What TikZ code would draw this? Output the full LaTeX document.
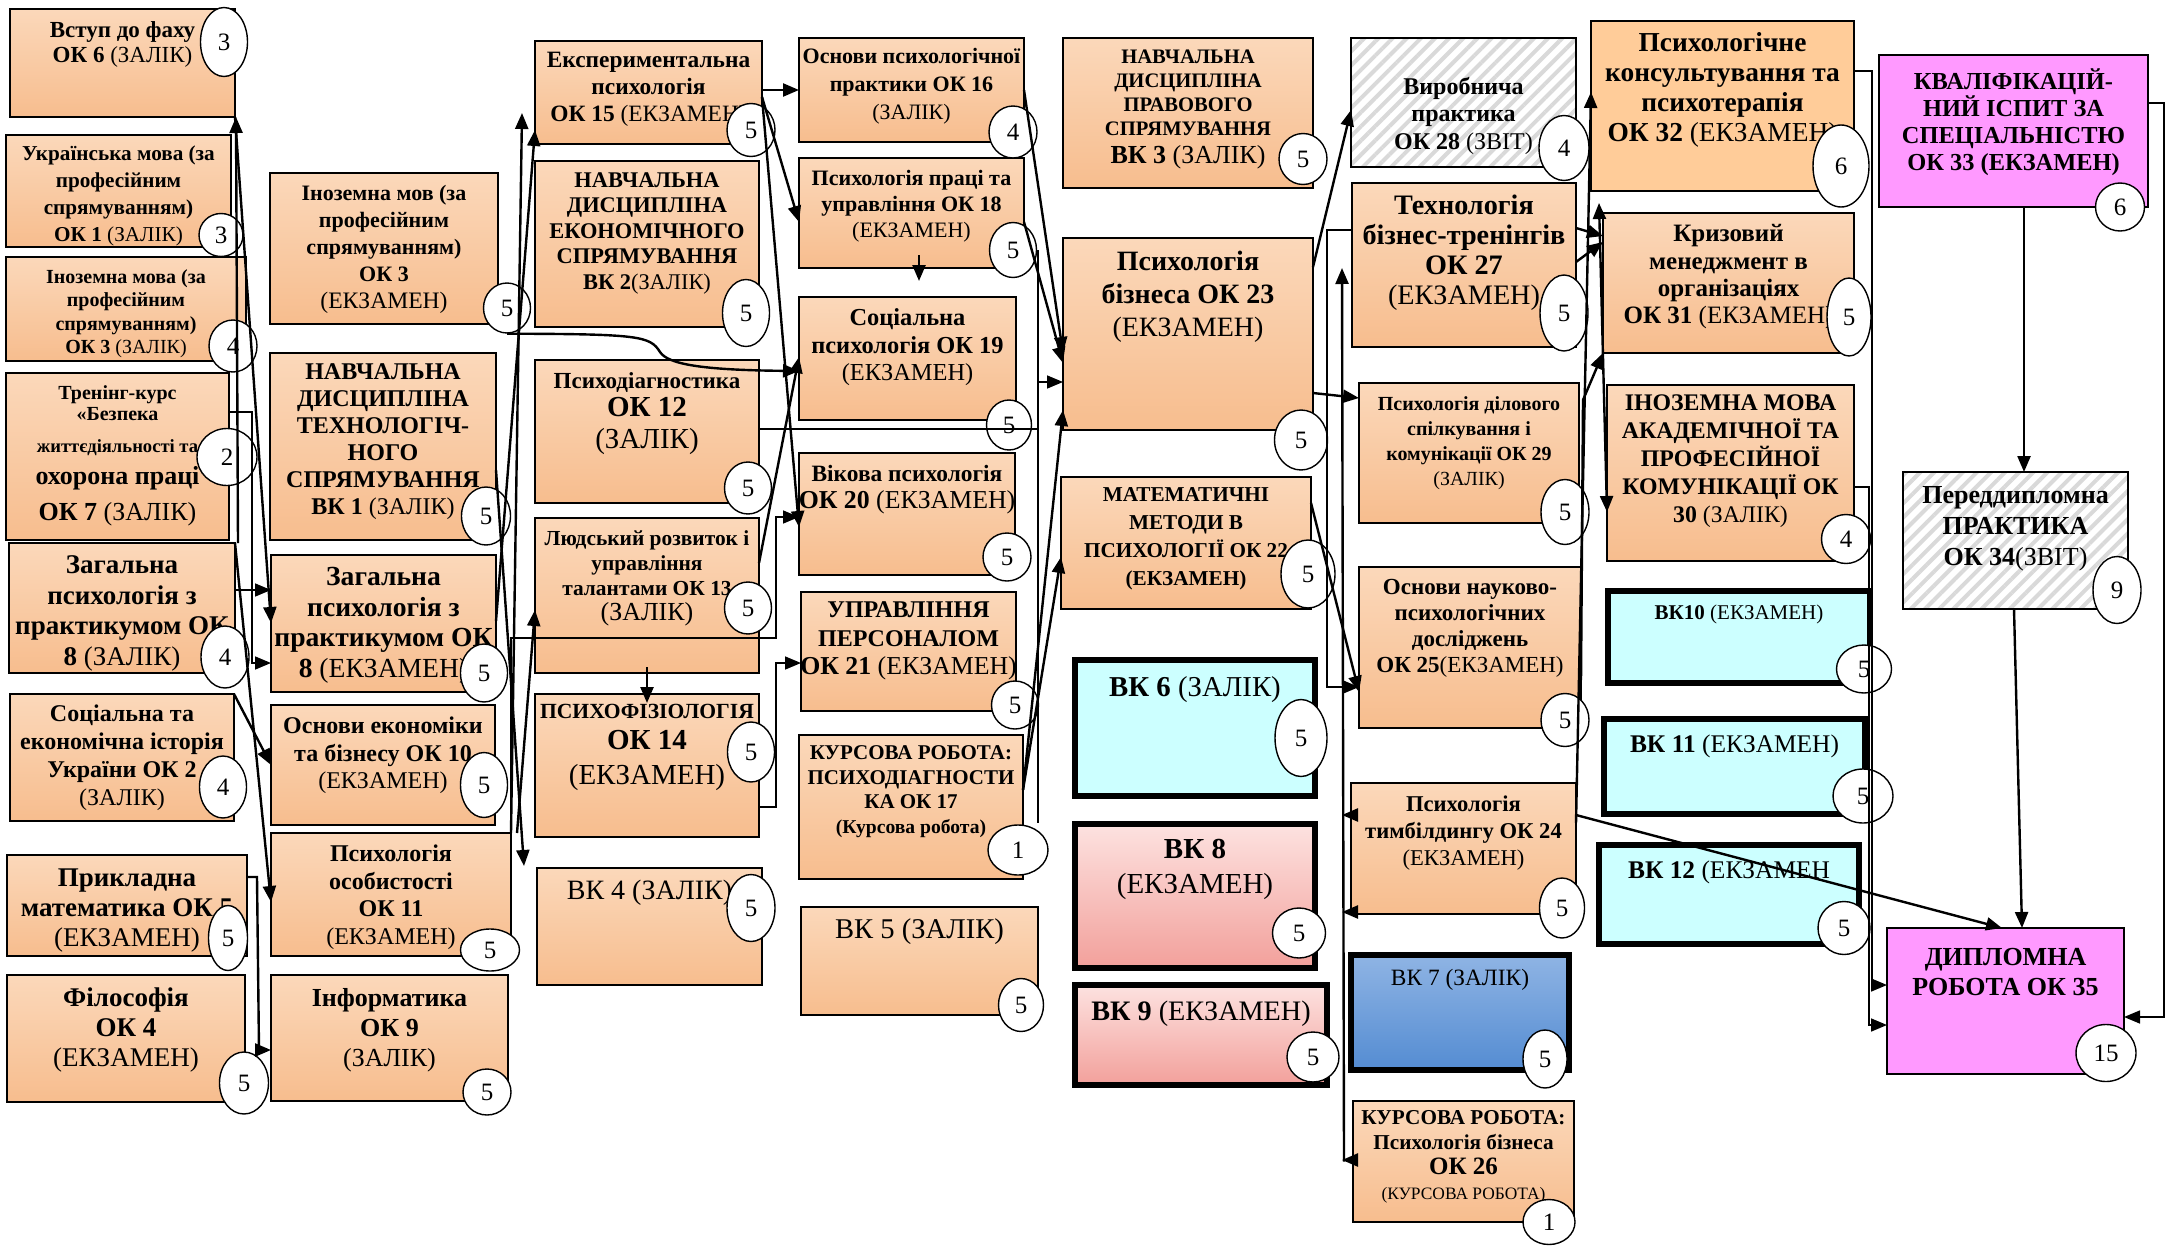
\documentclass[tikz,border=0pt]{standalone}
\usepackage{fontspec}
\setmainfont{Liberation Serif}
\usetikzlibrary{shapes.geometric,arrows.meta,patterns.meta,calc}
\definecolor{peachT}{RGB}{251,216,186}
\definecolor{peachB}{RGB}{247,189,142}
\definecolor{konsC}{RGB}{255,204,153}
\definecolor{magC}{RGB}{255,153,255}
\definecolor{cyanC}{RGB}{204,255,255}
\definecolor{pinkT}{RGB}{253,226,224}
\definecolor{pinkB}{RGB}{242,160,155}
\definecolor{blueT}{RGB}{143,180,228}
\definecolor{blueB}{RGB}{84,140,210}
\newcommand\fz[2]{\fontsize{#1}{#2}\selectfont}
\newcommand\mkbox[9]{%
  \pgfmathsetmacro\mybw{(#5-#3)*0.5}%
  \pgfmathsetmacro\mybh{(#6-#4)*0.5}%
  \node[#1, minimum width=\mybw pt, minimum height=\mybh pt] (#2) at ({(#3+#5)/2},{(#4+#6)/2}) {};
  \node[txt, font={\bfseries#8}, anchor=north] (#2-t) at ([yshift=-#7pt]#2.north) {#9};}
\newcommand\crd[6]{\node[ell, minimum width=#4*0.5pt, minimum height=#5*0.5pt] (#1) at (#2,#3) {#6};}
\begin{document}
\begin{tikzpicture}[x=0.5pt,y=-0.5pt,
  bxbase/.style={rectangle, draw=black, line width=0.9pt, inner sep=0pt, outer sep=0pt},
  obox/.style={bxbase, top color=peachT, bottom color=peachB},
  kbox/.style={bxbase, fill=konsC},
  mbox/.style={bxbase, fill=magC},
  cbox/.style={bxbase, line width=2.6pt, fill=cyanC},
  pbox/.style={bxbase, line width=2.6pt, top color=pinkT, bottom color=pinkB},
  blbox/.style={bxbase, line width=2.6pt, top color=blueT, bottom color=blueB},
  hbox/.style={bxbase, preaction={fill=white}, pattern={Lines[angle=45,distance=5pt,line width=2pt]}, pattern color=gray!30},
  txt/.style={inner sep=0pt, align=center},
  ell/.style={ellipse, draw=black, line width=0.7pt, fill=white, inner sep=0pt, font=\fz{12.5}{14}},
  arr/.style={line width=1.2pt, -{Triangle[length=8pt,width=6.5pt]}},
  arrt/.style={line width=0.8pt, -{Triangle[length=8pt,width=6.5pt]}},
  ln/.style={line width=0.8pt},
]
\useasboundingbox (0,0) rectangle (2168,1247);
\fill[white] (0,0) rectangle (2168,1247);

% ---------- column 1
\mkbox{obox}{vstup}{10}{9}{235}{117}{6.2}{\fz{11.5}{12.5}}{Вступ до фаху\\ОК 6 {\mdseries(ЗАЛІК)}}
\mkbox{obox}{ukr}{6}{135}{231}{247}{5.4}{\fz{10.6}{13.5}}{Українська мова (за\\професійним\\спрямуванням)\\ОК 1 {\mdseries(ЗАЛІК)}}
\mkbox{obox}{inozZ}{6}{257}{246}{361}{6}{\fz{10}{11.7}}{Іноземна мова (за\\професійним\\спрямуванням)\\ОК 3 {\mdseries(ЗАЛІК)}}
\mkbox{obox}{tren}{6}{373}{229}{540}{5.9}{\fz{10}{10.5}}{Тренінг-курс\\«Безпека\\[5.5pt]{\fz{9.3}{11}життєдіяльності та}\\[4.5pt]{\fz{13}{15}охорона праці}\\[5.5pt]{\fz{13}{15}ОК 7 {\mdseries(ЗАЛІК)}}}
\mkbox{obox}{zagZ}{9}{543}{235}{673}{6.1}{\fz{13.5}{15.3}}{Загальна\\психологія з\\практикумом ОК\\8 {\mdseries(ЗАЛІК)}}
\mkbox{obox}{socEk}{10}{694}{234}{821}{5.2}{\fz{12}{14}}{Соціальна та\\економічна історія\\України ОК 2\\{\mdseries(ЗАЛІК)}}
\mkbox{obox}{prykl}{7}{855}{247}{956}{6.6}{\fz{13.5}{15}}{Прикладна\\математика ОК 5\\{\mdseries(ЕКЗАМЕН)}}
\mkbox{obox}{filos}{7}{975}{245}{1102}{6.1}{\fz{13.5}{15}}{Філософія\\ОК 4\\{\mdseries(ЕКЗАМЕН)}}

% ---------- column 2
\mkbox{obox}{inozE}{270}{173}{498}{324}{6}{\fz{11}{13.5}}{Іноземна мов (за\\професійним\\спрямуванням)\\ОК 3\\{\mdseries\fz{11.8}{13.5}(ЕКЗАМЕН)}}
\mkbox{obox}{tech}{270}{353}{496}{540}{5.2}{\fz{12}{13.5}}{НАВЧАЛЬНА\\ДИСЦИПЛІНА\\ТЕХНОЛОГІЧ-\\НОГО\\СПРЯМУВАННЯ\\ВК 1 {\mdseries(ЗАЛІК)}}
\mkbox{obox}{zagE}{271}{555}{496}{692}{6}{\fz{13.8}{15.3}}{Загальна\\психологія з\\практикумом ОК\\8 {\mdseries(ЕКЗАМЕН)}}
\mkbox{obox}{osnEk}{271}{705}{495}{825}{5.7}{\fz{12}{13.8}}{Основи економіки\\та бізнесу ОК 10\\{\mdseries(ЕКЗАМЕН)}}
\mkbox{obox}{psos}{271}{833}{511}{956}{5.7}{\fz{12}{13.8}}{Психологія\\особистості\\ОК 11\\{\mdseries(ЕКЗАМЕН)}}
\mkbox{obox}{inf}{271}{975}{508}{1101}{6.3}{\fz{13}{15}}{Інформатика\\ОК 9\\{\mdseries(ЗАЛІК)}}

% ---------- column 3
\mkbox{obox}{expt}{535}{41}{762}{144}{5.6}{\fz{11.7}{13.3}}{Експериментальна\\психологія\\ОК 15 {\mdseries(ЕКЗАМЕН)}}
\mkbox{obox}{vk2}{535}{161}{759}{327}{5.5}{\fz{11.2}{12.8}}{НАВЧАЛЬНА\\ДИСЦИПЛІНА\\ЕКОНОМІЧНОГО\\СПРЯМУВАННЯ\\ВК 2{\mdseries(ЗАЛІК)}}
\mkbox{obox}{pdiag}{535}{360}{759}{503}{5.9}{\fz{11.5}{14}}{Психодіагностика\\{\fz{14.5}{16}ОК 12}\\[2pt]{\mdseries\fz{14.5}{16}(ЗАЛІК)}}
\mkbox{obox}{ludr}{535}{518}{759}{673}{6.1}{\fz{10.7}{12.5}}{Людський розвиток і\\управління\\талантами ОК 13\\{\mdseries\fz{13}{15}(ЗАЛІК)}}
\mkbox{obox}{psyf}{535}{694}{759}{837}{5.1}{\fz{10.8}{15.5}}{ПСИХОФІЗІОЛОГІЯ\\{\fz{14.5}{16}ОК 14}\\[2pt]{\mdseries\fz{14.5}{16}(ЕКЗАМЕН)}}
\mkbox{obox}{vk4}{537}{868}{762}{985}{6}{\fz{14}{16}\mdseries}{ВК 4 (ЗАЛІК)}

% ---------- column 4
\mkbox{obox}{ok16}{799}{38}{1024}{142}{5}{\fz{11}{14}}{Основи психологічної\\практики ОК 16\\{\mdseries(ЗАЛІК)}}
\mkbox{obox}{ok18}{799}{158}{1024}{268}{6}{\fz{11}{13}}{Психологія праці та\\управління ОК 18\\{\mdseries(ЕКЗАМЕН)}}
\mkbox{obox}{ok19}{799}{297}{1016}{420}{5.6}{\fz{12.2}{13.8}}{Соціальна\\психологія ОК 19\\{\mdseries(ЕКЗАМЕН)}}
\mkbox{obox}{vik}{799}{453}{1015}{575}{5.8}{\fz{11.7}{13.5}}{Вікова психологія\\{\fz{12.9}{14}ОК 20 {\mdseries(ЕКЗАМЕН)}}}
\mkbox{obox}{upr}{801}{592}{1016}{711}{4.7}{\fz{12}{14.2}}{УПРАВЛІННЯ\\ПЕРСОНАЛОМ\\{\fz{12.9}{14}ОК 21 {\mdseries(ЕКЗАМЕН)}}}
\mkbox{obox}{ok17}{799}{735}{1023}{879}{5.2}{\fz{10.5}{12.3}}{КУРСОВА РОБОТА:\\ПСИХОДІАГНОСТИ\\КА ОК 17\\{\fz{9.8}{12}(Курсова робота)}}
\mkbox{obox}{vk5}{801}{907}{1038}{1015}{5.4}{\fz{14.3}{16}\mdseries}{ВК 5 (ЗАЛІК)}

% ---------- column 5
\mkbox{obox}{vk3}{1063}{38}{1313}{188}{5.8}{\fz{10.3}{12}}{НАВЧАЛЬНА\\ДИСЦИПЛІНА\\ПРАВОВОГО\\СПРЯМУВАННЯ\\[2pt]{\fz{13}{14}ВК 3 {\mdseries(ЗАЛІК)}}}
\mkbox{obox}{ok23}{1063}{238}{1313}{430}{6.4}{\fz{14}{16.5}}{Психологія\\бізнеса ОК 23\\{\mdseries(ЕКЗАМЕН)}}
\mkbox{obox}{matem}{1061}{477}{1311}{609}{5.2}{\fz{10.6}{14}}{МАТЕМАТИЧНІ\\МЕТОДИ В\\ПСИХОЛОГІЇ ОК 22\\(ЕКЗАМЕН)}
\mkbox{cbox}{vk6}{1075}{660}{1315}{796}{8.3}{\fz{14.4}{16}}{ВК 6 {\mdseries(ЗАЛІК)}}
\mkbox{pbox}{vk8}{1075}{824}{1315}{968}{7.3}{\fz{14.5}{17.5}}{ВК 8\\{\mdseries(ЕКЗАМЕН)}}
\mkbox{pbox}{vk9}{1075}{985}{1327}{1085}{7.8}{\fz{14.1}{16}}{ВК 9 {\mdseries(ЕКЗАМЕН)}}

% ---------- column 6
\mkbox{hbox}{vyrob}{1351}{38}{1576}{167}{19.5}{\fz{12}{13.7}}{Виробнича\\практика\\ОК 28 {\mdseries(ЗВІТ)}}
\mkbox{obox}{ok27}{1352}{183}{1576}{347}{6}{\fz{14.1}{15}}{Технологія\\бізнес-тренінгів\\ОК 27\\{\mdseries(ЕКЗАМЕН)}}
\mkbox{obox}{ok29}{1359}{383}{1579}{523}{6.4}{\fz{10}{12.5}}{Психологія ділового\\спілкування і\\комунікації ОК 29\\{\mdseries(ЗАЛІК)}}
\mkbox{obox}{ok25}{1359}{567}{1581}{728}{5.9}{\fz{11.5}{13}}{Основи науково-\\психологічних\\досліджень\\ОК 25{\mdseries(ЕКЗАМЕН)}}
\mkbox{obox}{timb}{1351}{783}{1576}{914}{6}{\fz{11.3}{13.5}}{Психологія\\тимбілдингу ОК 24\\{\mdseries(ЕКЗАМЕН)}}
\mkbox{blbox}{vk7}{1351}{955}{1569}{1070}{6.8}{\fz{11.7}{13}\mdseries}{ВК 7 (ЗАЛІК)}
\mkbox{obox}{ok26}{1353}{1101}{1574}{1222}{4.7}{\fz{10.6}{12.5}}{КУРСОВА РОБОТА:\\Психологія бізнеса\\{\fz{12.5}{13.5}ОК 26}\\{\mdseries\fz{8.7}{11}(КУРСОВА РОБОТА)}}

% ---------- column 7
\mkbox{kbox}{kons}{1591}{21}{1854}{191}{5.5}{\fz{13.7}{15}}{Психологічне\\консультування та\\психотерапія\\ОК 32 {\mdseries(ЕКЗАМЕН)}}
\mkbox{obox}{kryz}{1603}{213}{1854}{353}{5.5}{\fz{12.5}{13.7}}{Кризовий\\менеджмент в\\організаціях\\ОК 31 {\mdseries(ЕКЗАМЕН)}}
\mkbox{obox}{inAk}{1607}{385}{1854}{561}{4.7}{\fz{11.9}{14}}{ІНОЗЕМНА МОВА\\АКАДЕМІЧНОЇ ТА\\ПРОФЕСІЙНОЇ\\КОМУНІКАЦІЇ ОК\\30 {\mdseries(ЗАЛІК)}}
\mkbox{cbox}{vk10}{1608}{591}{1870}{683}{6.7}{\fz{10.5}{12}}{ВК10 {\mdseries(ЕКЗАМЕН)}}
\mkbox{cbox}{vk11}{1604}{719}{1865}{814}{7.9}{\fz{12.7}{14}}{ВК 11 {\mdseries(ЕКЗАМЕН)}}
\mkbox{cbox}{vk12}{1599}{845}{1859}{944}{7.9}{\fz{12.7}{14}}{ВК 12 {\mdseries(ЕКЗАМЕН}}

% ---------- column 8
\mkbox{mbox}{kval}{1879}{55}{2148}{207}{6.6}{\fz{12.2}{13.5}}{КВАЛІФІКАЦІЙ-\\НИЙ ІСПИТ ЗА\\СПЕЦІАЛЬНІСТЮ\\ОК 33 (ЕКЗАМЕН)}
\mkbox{hbox}{pered}{1903}{472}{2128}{609}{6.8}{\fz{13}{15.5}}{Переддипломна\\ПРАКТИКА\\ОК 34{\mdseries(ЗВІТ)}}
\mkbox{mbox}{dypl}{1887}{928}{2124}{1074}{9.8}{\fz{13}{15}}{ДИПЛОМНА\\РОБОТА ОК 35}

% ---------- credit ellipses
\crd{c-vstup}{224}{42}{47}{69}{3}
\crd{c-ukr}{221}{235}{44}{43}{3}
\crd{c-inozZ}{233}{346}{48}{52}{4}
\crd{c-tren}{227}{457}{60}{57}{2}
\crd{c-zagZ}{225}{657}{48}{62}{4}
\crd{c-socEk}{223}{787}{47}{62}{4}
\crd{c-prykl}{228}{938}{39}{65}{5}
\crd{c-filos}{244}{1083}{49}{62}{5}
\crd{c-inozE}{507}{308}{47}{50}{5}
\crd{c-tech}{486}{516}{49}{58}{5}
\crd{c-zagE}{484}{673}{47}{58}{5}
\crd{c-osnEk}{484}{785}{47}{65}{5}
\crd{c-psos}{490}{950}{59}{42}{5}
\crd{c-inf}{487}{1092}{48}{46}{5}
\crd{c-expt}{751}{130}{48}{53}{5}
\crd{c-vk2}{746}{313}{47}{67}{5}
\crd{c-pdiag}{748}{488}{47}{52}{5}
\crd{c-ludr}{748}{608}{47}{52}{5}
\crd{c-psyf}{751}{752}{47}{60}{5}
\crd{c-vk4}{751}{908}{48}{67}{5}
\crd{c-ok16}{1013}{132}{48}{52}{4}
\crd{c-ok18}{1013}{250}{47}{55}{5}
\crd{c-ok19}{1009}{425}{45}{50}{5}
\crd{c-vik}{1007}{557}{48}{48}{5}
\crd{c-upr}{1015}{705}{47}{48}{5}
\crd{c-ok17}{1018}{850}{60}{50}{1}
\crd{c-vk5}{1021}{1005}{45}{53}{5}
\crd{c-vk3}{1303}{159}{48}{51}{5}
\crd{c-ok23}{1301}{440}{53}{60}{5}
\crd{c-matem}{1308}{574}{54}{68}{5}
\crd{c-vk6}{1301}{738}{52}{77}{5}
\crd{c-vk8}{1299}{933}{53}{50}{5}
\crd{c-vk9}{1313}{1057}{52}{50}{5}
\crd{c-vyrob}{1564}{148}{50}{65}{4}
\crd{c-ok27}{1564}{313}{48}{76}{5}
\crd{c-ok29}{1565}{512}{48}{65}{5}
\crd{c-ok25}{1565}{720}{48}{53}{5}
\crd{c-timb}{1562}{908}{45}{60}{5}
\crd{c-vk7}{1545}{1059}{44}{58}{5}
\crd{c-ok26}{1549}{1222}{52}{45}{1}
\crd{c-kons}{1841}{166}{56}{82}{6}
\crd{c-kryz}{1849}{317}{44}{78}{5}
\crd{c-inAk}{1846}{539}{49}{49}{4}
\crd{c-vk10}{1864}{669}{55}{48}{5}
\crd{c-vk11}{1863}{796}{60}{54}{5}
\crd{c-vk12}{1844}{928}{52}{53}{5}
\crd{c-kval}{2120}{207}{49}{48}{6}
\crd{c-pered}{2117}{590}{48}{67}{9}
\crd{c-dypl}{2106}{1053}{60}{57}{15}

% ---------- connectors
\coordinate (t2) at (522,113);
\coordinate (t4) at (524,866);
% left gutter
\draw[arr] (vstup.south east) -- (zagE.west |- 0,623);
\draw[arr] (238,0 |- zagZ.north) -- (236,0 |- vstup.south);
\draw[arr] (zagZ.north east) -- (psos.west |- 0,902);
\draw[arrt] (tren.east |- 0,412) -- ++(23,0) |- (zagE.west |- 0,663);
\draw[arrt] (zagZ.east |- 0,590) -- (zagE.west |- 0,590);
\draw[arr] (socEk.north east) -- (osnEk.west |- 0,765);
\draw[arr] (prykl.east |- 0,877) -- ++(10,0) -- (259,1050) -- (inf.west |- 0,1050);
% second gutter
\draw[arr] (c-inozE.south) .. controls (640,334) and (650,336) .. (660,352) .. controls (668,364) and (700,370) .. (ok19.west |- 0,371);
\draw[arr] (zagE.east |- 0,621) -- (expt.west |- 0,130);
\draw[arr] (psos.north east) -- (t2);
\draw[arr] (tech.east |- 0,470) -- (t4);
\draw[arrt] (psos.east |- 0,845) -- (psos.east |- 0,638) -- (776,638) -- (776,517) -- (vik.west |- 0,517);
\draw[arr] (517,0 |- psos.north) -- (ludr.west |- 0,610);
% third gutter
\draw[arr] (expt.east |- 0,90) -- (ok16.west |- 0,90);
\draw[arr] (expt.east |- 0,97) -- (ok18.west |- 0,222);
\draw[arr] (expt.east |- 0,97) -- (vik.west |- 0,527);
\draw[arr] ($(ok18.south -| 919,0)+(0,-13)$) -- ($(ok19.north -| 919,0)+(0,-16)$);
\draw[arr] (ludr.east |- 0,563) -- (ok19.west |- 0,357);
\draw[arr] ($(ludr.south -| 647,0)+(0,-6)$) -- ($(psyf.north -| 647,0)+(0,9)$);
\draw[arrt] (psyf.east |- 0,807) -- (776,807) |- (upr.west |- 0,663);
% fourth gutter
\draw[arrt] (pdiag.east |- 0,429) -- (1038,429) |- (ok23.west |- 0,382);
\draw[ln] (1038,0 |- c-ok18.east) -- (1038,823);
\draw[arr] (ok16.east |- 0,90) -- (ok23.west |- 0,353);
\draw[arr] (ok18.east |- 0,222) -- (ok23.west |- 0,363);
\draw[arr] (ok17.east |- 0,790) -- (ok23.west |- 0,410);
\draw[arr] (ok17.east |- 0,790) -- (matem.west |- 0,557);
% fifth gutter
\draw[arr] (ok23.east |- 0,267) -- (vyrob.west |- 0,110);
\draw[arr] (ok23.east |- 0,393) -- (ok29.west |- 0,398);
\draw[arrt] (ok27.west |- 0,230) -- (1327,230) |- (ok25.west |- 0,687);
\draw[arr] (matem.east |- 0,503) -- (ok25.west |- 0,692);
\draw[arr] (1344,0 |- ok26.west) -- (1342,268);
\draw[arr] (timb.west |- 0,815) -- (1342,815);
\draw[arr] (timb.west |- 0,912) -- (1342,912);
\draw[arr] (ok26.west |- 0,1160) -- (1342,1160);
% sixth gutter
\draw[arr] (ok27.east |- 0,228) -- (kryz.west |- 0,236);
\draw[arr] (ok27.east |- 0,262) -- (kryz.west |- 0,242);
\draw[arr] (ok25.east |- 0,680) -- (1583,400) -- (kryz.south west);
\draw[arr] (timb.east |- 0,823) -- (kons.west |- 0,92);
\draw[line width=1.2pt, {Triangle[length=8pt,width=6.5pt]}-{Triangle[length=8pt,width=6.5pt]}] (inAk.west |- 0,512) -- (1599,203);
\draw[arr] (timb.east |- 0,815) -- (2002,0 |- dypl.north);
% right side
\draw[arrt] (kons.east |- 0,71) -- (1872,71) |- (dypl.west |- 0,985);
\draw[arrt] (inAk.east |- 0,487) -- (1869,487) |- (dypl.west |- 0,1025);
\draw[arrt] (kval.east |- 0,103) -- (2164,103) |- (dypl.east |- 0,1017);
\draw[arr] (2024,0 |- kval.south) -- (2024,0 |- pered.north);
\draw[arr] (2014,0 |- pered.south) -- (2022,0 |- dypl.north);
\end{tikzpicture}
\end{document}
